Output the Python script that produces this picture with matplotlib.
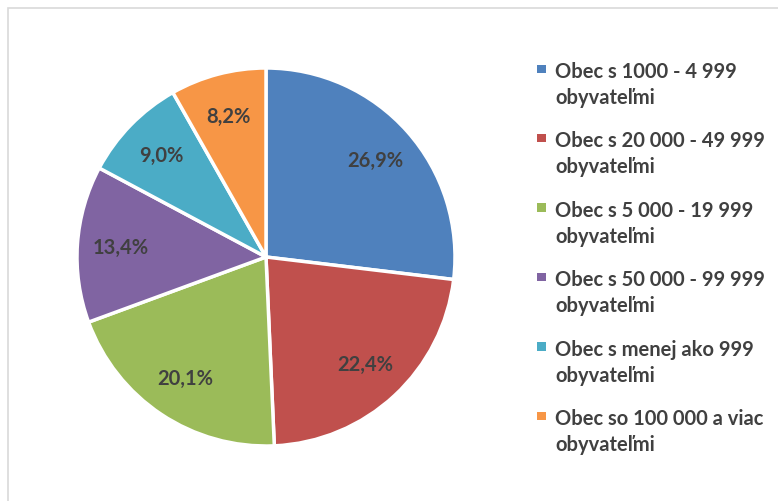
import matplotlib.pyplot as plt
from matplotlib.patches import Rectangle

categories = [
    "Obec s 1000 - 4 999\nobyvateľmi",
    "Obec s 20 000 - 49 999\nobyvateľmi",
    "Obec s 5 000 - 19 999\nobyvateľmi",
    "Obec s 50 000 - 99 999\nobyvateľmi",
    "Obec s menej ako 999\nobyvateľmi",
    "Obec so 100 000 a viac\nobyvateľmi",
]
shares = [26.9, 22.4, 20.1, 13.4, 9.0, 8.2]
colors = ["#4F81BD", "#C0504D", "#9BBB59", "#8064A2", "#4BACC6", "#F79646"]

plt.rcParams["font.family"] = ["Lato", "DejaVu Sans"]
text_color = "#404040"

W, H = 778, 502
fig = plt.figure(figsize=(W / 100, H / 100), dpi=100)

# chart border
fig.add_artist(Rectangle((8 / W, -0.1), 1.1, (H - 9) / H + 0.1,
                         transform=fig.transFigure, fill=False,
                         edgecolor="#D9D9D9", linewidth=1.2))

cx, cy, r = 266, 258, 189
ax = fig.add_axes([(cx - r) / W, (H - cy - r) / H, 2 * r / W, 2 * r / H])

wedges, texts, autotexts = ax.pie(
    shares, colors=colors, startangle=90, counterclock=False, radius=1,
    autopct=lambda p: f"{p:.1f}%".replace(".", ","), pctdistance=0.77,
    wedgeprops=dict(edgecolor="white", linewidth=2.5),
    textprops=dict(color=text_color, fontsize=14.5, fontweight="bold"))
ax.set_xlim(-1, 1)
ax.set_ylim(-1, 1)
ax.set_aspect("equal")

# legend: square aligned with the first line of each two-line label
for i, (label, col) in enumerate(zip(categories, colors)):
    base = 78 + i * 69.4
    fig.add_artist(Rectangle((537 / W, 1 - (base - 4) / H), 8.5 / W, 8.5 / H,
                             transform=fig.transFigure, facecolor=col,
                             edgecolor="none"))
    for j, line in enumerate(label.split("\n")):
        fig.text(555 / W, 1 - (base + j * 26) / H, line, va="baseline",
                 ha="left", fontsize=14.5, fontweight="bold",
                 color=text_color)

fig.savefig("out.png", dpi=100)
